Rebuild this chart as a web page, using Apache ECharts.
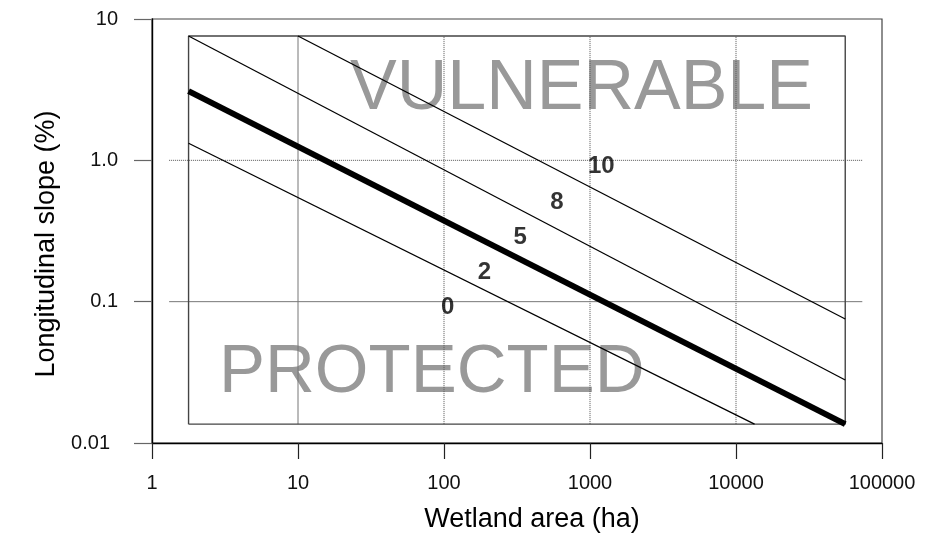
<!DOCTYPE html>
<html>
<head>
<meta charset="utf-8">
<style>
  html, body { margin: 0; padding: 0; background: #fff; }
  #chart { width: 936px; height: 548px; }
</style>
<script src="https://cdn.jsdelivr.net/npm/echarts@6/dist/echarts.min.js"></script>
</head>
<body>
<div id="chart"></div>
<script>
// Axis ticks (log scales)
const xTicks = [1, 10, 100, 1000, 10000, 100000];
const yTicks = [0.01, 0.1, 1, 10];
const yTickLabels = ['0.01', '0.1', '1.0', '10'];

// Inner frame of the diagram (wetland area, slope)
const frameX = [1.78, 56000];
const frameY = [0.0136, 7.58];

// Reference grid lines
const vGridX = [10, 100, 1000, 10000];
const vGridSolid = [true, false, false, false];
const hGridY = [1, 0.1];
const hGridSolid = [false, true];
const hGridSpan = [1.31, 73300];

// Threshold lines: [area, slope] end points
const lineLow = [[1.78, 1.32], [13400, 0.0136]];
const lineMain = [[1.78, 3.09], [56000, 0.0136]];
const lineUpper = [[1.78, 7.58], [56000, 0.0279]];
const lineTop = [[10, 7.58], [56000, 0.0754]];

// Contour labels
const contourText = ['0', '2', '5', '8', '10'];
const contourX = [106, 189, 333, 593, 1195];
const contourY = [0.0908, 0.161, 0.284, 0.507, 0.911];

const FONT = 'Liberation Sans, Arial, sans-serif';

const series = [];

vGridX.forEach((x, i) => {
  series.push({
    type: 'line', silent: true, symbol: 'none', z: 1,
    data: [[x, frameY[0]], [x, frameY[1]]],
    lineStyle: vGridSolid[i]
      ? { color: '#777', width: 1, type: 'solid' }
      : { color: '#555', width: 1, type: [1, 1] }
  });
});
hGridY.forEach((y, i) => {
  series.push({
    type: 'line', silent: true, symbol: 'none', z: 1,
    data: [[hGridSpan[0], y], [hGridSpan[1], y]],
    lineStyle: hGridSolid[i]
      ? { color: '#777', width: 1, type: 'solid' }
      : { color: '#555', width: 1, type: [1, 1] }
  });
});

// inner rectangle
series.push({
  type: 'line', silent: true, symbol: 'none', z: 2,
  data: [
    [frameX[0], frameY[0]], [frameX[1], frameY[0]],
    [frameX[1], frameY[1]], [frameX[0], frameY[1]],
    [frameX[0], frameY[0]]
  ],
  lineStyle: { color: '#444', width: 1.4 }
});

[lineLow, lineUpper, lineTop].forEach(d => {
  series.push({
    type: 'line', silent: true, symbol: 'none', z: 3,
    data: d, lineStyle: { color: '#000', width: 1.3 }
  });
});
series.push({
  type: 'line', silent: true, symbol: 'none', z: 4,
  data: lineMain, lineStyle: { color: '#000', width: 6, cap: 'butt' }
});

series.push({
  type: 'scatter', silent: true, symbolSize: 0, z: 5,
  data: contourText.map((t, i) => ({ value: [contourX[i], contourY[i]], name: t })),
  label: {
    show: true, position: 'inside', formatter: p => p.name,
    color: '#000', fontFamily: FONT, fontWeight: 'bold', fontSize: 24
  }
});

const chart = echarts.init(document.getElementById('chart'), null, { renderer: 'canvas' });
chart.setOption({
  animation: false,
  backgroundColor: '#fff',
  grid: {
    left: 152, right: 54, top: 19, bottom: 105,
    show: true, borderColor: '#444', borderWidth: 1.2, backgroundColor: 'transparent'
  },
  xAxis: {
    type: 'log', logBase: 10, min: xTicks[0], max: xTicks[xTicks.length - 1],
    name: 'Wetland area (ha)', nameLocation: 'middle', nameGap: 63,
    nameTextStyle: { fontFamily: FONT, fontSize: 27, color: '#000', padding: [0, 0, 0, 30] },
    axisLine: { show: true, lineStyle: { color: '#000', width: 1.4 } },
    axisTick: { show: true, length: 16, lineStyle: { color: '#222', width: 1.2 } },
    minorTick: { show: false },
    splitLine: { show: false },
    axisLabel: {
      margin: 30, fontFamily: FONT, fontSize: 20, color: '#111',
      formatter: v => String(Math.round(v))
    }
  },
  yAxis: {
    type: 'log', logBase: 10, min: yTicks[0], max: yTicks[yTicks.length - 1],
    name: 'Longitudinal slope (%)', nameLocation: 'middle', nameGap: 74, nameRotate: 90,
    nameTextStyle: { fontFamily: FONT, fontSize: 27, color: '#000', padding: [0, 26, 0, 0] },
    axisLine: { show: true, lineStyle: { color: '#000', width: 1.4 } },
    axisTick: { show: true, length: 18, lineStyle: { color: '#666', width: 1.2 } },
    splitLine: { show: false },
    axisLabel: {
      margin: 34, fontFamily: FONT, fontSize: 20, color: '#111',
      formatter: v => {
        let best = 0;
        yTicks.forEach((t, i) => {
          if (Math.abs(Math.log10(t) - Math.log10(v)) < Math.abs(Math.log10(yTicks[best]) - Math.log10(v))) best = i;
        });
        return yTickLabels[best] === '0.01' ? '{s|0.01}' : yTickLabels[best];
      },
      rich: { s: { fontFamily: FONT, fontSize: 20, color: '#111', padding: [0, 8, 0, 0] } }
    }
  },
  graphic: [
    {
      type: 'text', left: 350, top: 55, silent: true,
      style: { text: 'VULNERABLE', fill: '#999', font: '70px ' + FONT }
    },
    {
      type: 'text', left: 219, top: 338, silent: true,
      style: { text: 'PROTECTED', fill: '#999', font: '69px ' + FONT }
    }
  ],
  series: series
});
</script>
</body>
</html>
